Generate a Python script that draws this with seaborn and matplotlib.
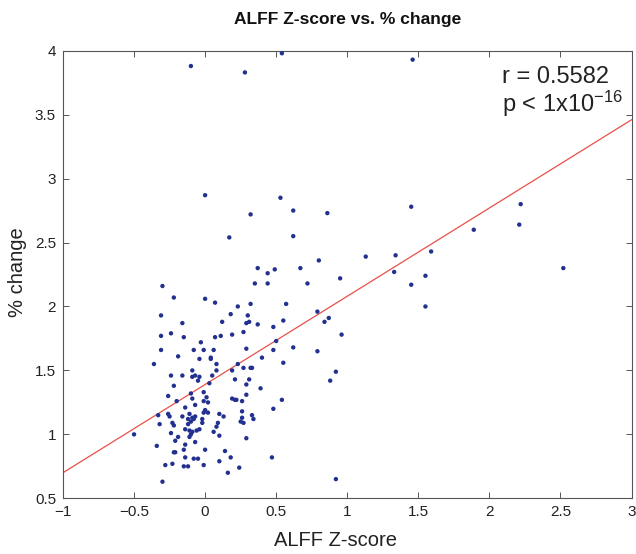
import numpy as np
import pandas as pd
import matplotlib
matplotlib.use("Agg")
import matplotlib.pyplot as plt
import seaborn as sns

# ---- data ----
alff_z = [
    -0.10, 0.28, 0.54, 1.46, 0.00, 0.53, 0.32, 0.62, 0.86, 0.17,
    0.62, 1.45, 2.22, 2.21, 1.89, 1.13, 1.34, 1.59, 0.80, 1.33,
    1.55, 1.45, 1.55, 2.52, 0.95, 0.96, 0.92, 0.88, 0.92, 0.37,
    0.49, 0.44, 0.67, 0.72, 0.79, 0.84, 0.87, 0.62, 0.79, -0.50,
    -0.30, -0.22, 0.00, 0.07, -0.31, -0.16, 0.12, -0.31, -0.24, -0.15,
    0.07, 0.11, -0.03, -0.31, -0.19, -0.08, -0.01, 0.06, -0.04, 0.04,
    0.04, -0.36, 0.08, -0.09, 0.08, -0.24, -0.16, -0.09, -0.07, -0.04, 0.05,
    -0.22, -0.05, 0.03, -0.26, -0.10, -0.09, -0.01, 0.01, -0.20, -0.01,
    0.02, -0.33, -0.32, -0.26, -0.25, -0.16, -0.14, -0.07, -0.11, -0.09,
    -0.08, -0.07, -0.12, -0.10, -0.12, -0.02, -0.02, -0.01, 0.00, 0.02,
    0.10, 0.09, 0.08, 0.06, -0.23, -0.22, -0.24, -0.19, -0.21, -0.14,
    -0.11, -0.09, -0.10, -0.11, -0.06, -0.04, -0.07, -0.14, -0.15, -0.34,
    -0.22, -0.21, -0.14, -0.08, -0.05, 0.00, 0.10, 0.14, -0.28, -0.23,
    -0.15, -0.12, -0.01, 0.10, -0.30,
    0.35, 0.44, 0.32, 0.23, 0.18, 0.30, 0.57, 0.29, 0.31, 0.37,
    0.48, 0.55, 0.27, 0.19, 0.50, 0.29, 0.48, 0.40, 0.55, 0.23,
    0.19, 0.27, 0.32, 0.33, 0.21, 0.31,
    0.29, 0.39, 0.19, 0.21, 0.22, 0.26, 0.29, 0.54, 0.26, 0.26,
    0.33, 0.34, 0.25, 0.27, 0.48, 0.13, 0.29, 0.18, 0.24, 0.16, 0.47,
]
pct_change = [
    3.88, 3.83, 3.98, 3.93, 2.87, 2.85, 2.72, 2.75, 2.73, 2.54,
    2.55, 2.78, 2.80, 2.64, 2.60, 2.39, 2.40, 2.43, 2.36, 2.27,
    2.24, 2.17, 2.00, 2.30, 2.22, 1.78, 1.49, 1.42, 0.65, 2.30,
    2.29, 2.26, 2.30, 2.18, 1.96, 1.88, 1.91, 1.68, 1.65, 1.00,
    2.16, 2.07, 2.06, 2.03, 1.93, 1.87, 1.88, 1.77, 1.79, 1.76,
    1.76, 1.77, 1.72, 1.66, 1.61, 1.66, 1.66, 1.66, 1.59, 1.59,
    1.60, 1.55, 1.55, 1.50, 1.50, 1.46, 1.46, 1.45, 1.46, 1.45, 1.46,
    1.38, 1.42, 1.40, 1.30, 1.32, 1.28, 1.33, 1.29, 1.26, 1.26,
    1.25, 1.15, 1.08, 1.16, 1.14, 1.14, 1.21, 1.23, 1.16, 1.13,
    1.12, 1.14, 1.12, 1.10, 1.08, 1.12, 1.09, 1.17, 1.19, 1.17,
    1.16, 1.09, 1.06, 1.02, 1.09, 1.07, 1.01, 0.98, 0.95, 1.04,
    1.03, 1.02, 1.00, 0.98, 1.03, 1.04, 0.94, 0.92, 0.88, 0.91,
    0.86, 0.86, 0.82, 0.81, 0.81, 0.88, 0.99, 0.87, 0.76, 0.77,
    0.75, 0.75, 0.76, 0.79, 0.63,
    2.18, 2.18, 2.02, 2.00, 1.94, 1.93, 2.02, 1.87, 1.88, 1.86,
    1.84, 1.89, 1.80, 1.78, 1.73, 1.67, 1.66, 1.60, 1.56, 1.55,
    1.50, 1.52, 1.52, 1.52, 1.43, 1.43,
    1.39, 1.36, 1.28, 1.27, 1.27, 1.26, 1.31, 1.27, 1.18, 1.13,
    1.15, 1.12, 1.10, 1.09, 1.20, 1.14, 0.97, 0.82, 0.74, 0.70, 0.82,
]
fit_x = [-1.0, 3.0]
fit_y = [0.70, 3.46]
r_text = "r = 0.5582"
p_text = r"p < 1x10$^{\mathregular{-16}}$"
x_ticks = [-1, -0.5, 0, 0.5, 1, 1.5, 2, 2.5, 3]
x_labels = ["\u22121", "\u22120.5", "0", "0.5", "1", "1.5", "2", "2.5", "3"]
y_ticks = [0.5, 1, 1.5, 2, 2.5, 3, 3.5, 4]
y_labels = ["0.5", "1", "1.5", "2", "2.5", "3", "3.5", "4"]
title = "ALFF Z-score vs. % change"
x_title = "ALFF Z-score"
y_title = "% change"

# ---- style ----
sns.set_style("ticks")
plt.rcParams["font.family"] = ["Liberation Sans", "DejaVu Sans"]
plt.rcParams["mathtext.fontset"] = "custom"
plt.rcParams["mathtext.rm"] = "Liberation Sans"
plt.rcParams["mathtext.it"] = "Liberation Sans:italic"
plt.rcParams["mathtext.bf"] = "Liberation Sans:bold"

fig = plt.figure(figsize=(6.36, 5.54), dpi=100)
ax = fig.add_axes([0.099, 0.1005, 0.894, 0.808])

df = pd.DataFrame({"z": alff_z, "pct": pct_change})
sns.scatterplot(data=df, x="z", y="pct", ax=ax, color="#22308f",
                s=10, linewidth=0, edgecolor="none", zorder=3)
sns.lineplot(x=fit_x, y=fit_y, ax=ax, color="#e8504a", linewidth=0.9, zorder=2)

ax.set_xlim(-1, 3)
ax.set_ylim(0.5, 4)
ax.set_xticks(x_ticks)
ax.set_xticklabels(x_labels)
ax.set_yticks(y_ticks)
ax.set_yticklabels(y_labels)
ax.tick_params(direction="in", length=4, width=0.7, colors="#555555",
               labelcolor="#222222", labelsize=11, pad=5,
               top=True, right=True)
for sp in ax.spines.values():
    sp.set_visible(True)
    sp.set_color("#555555")
    sp.set_linewidth(0.8)

ax.set_xlabel(x_title, fontsize=14.5, color="#222222")
ax.set_ylabel(y_title, fontsize=14.5, color="#222222")
ax.xaxis.set_label_coords(0.48, -0.072)
ax.yaxis.set_label_coords(-0.064, 0.505)
ax.set_title(title, fontsize=12.5, fontweight="bold", pad=19, color="#111111")

ax.text(2.09, 3.747, r_text, fontsize=17, ha="left", va="baseline", color="#222222")
ax.text(2.09, 3.52, p_text, fontsize=17, ha="left", va="baseline", color="#222222")

fig.savefig("out.png", dpi=100)
